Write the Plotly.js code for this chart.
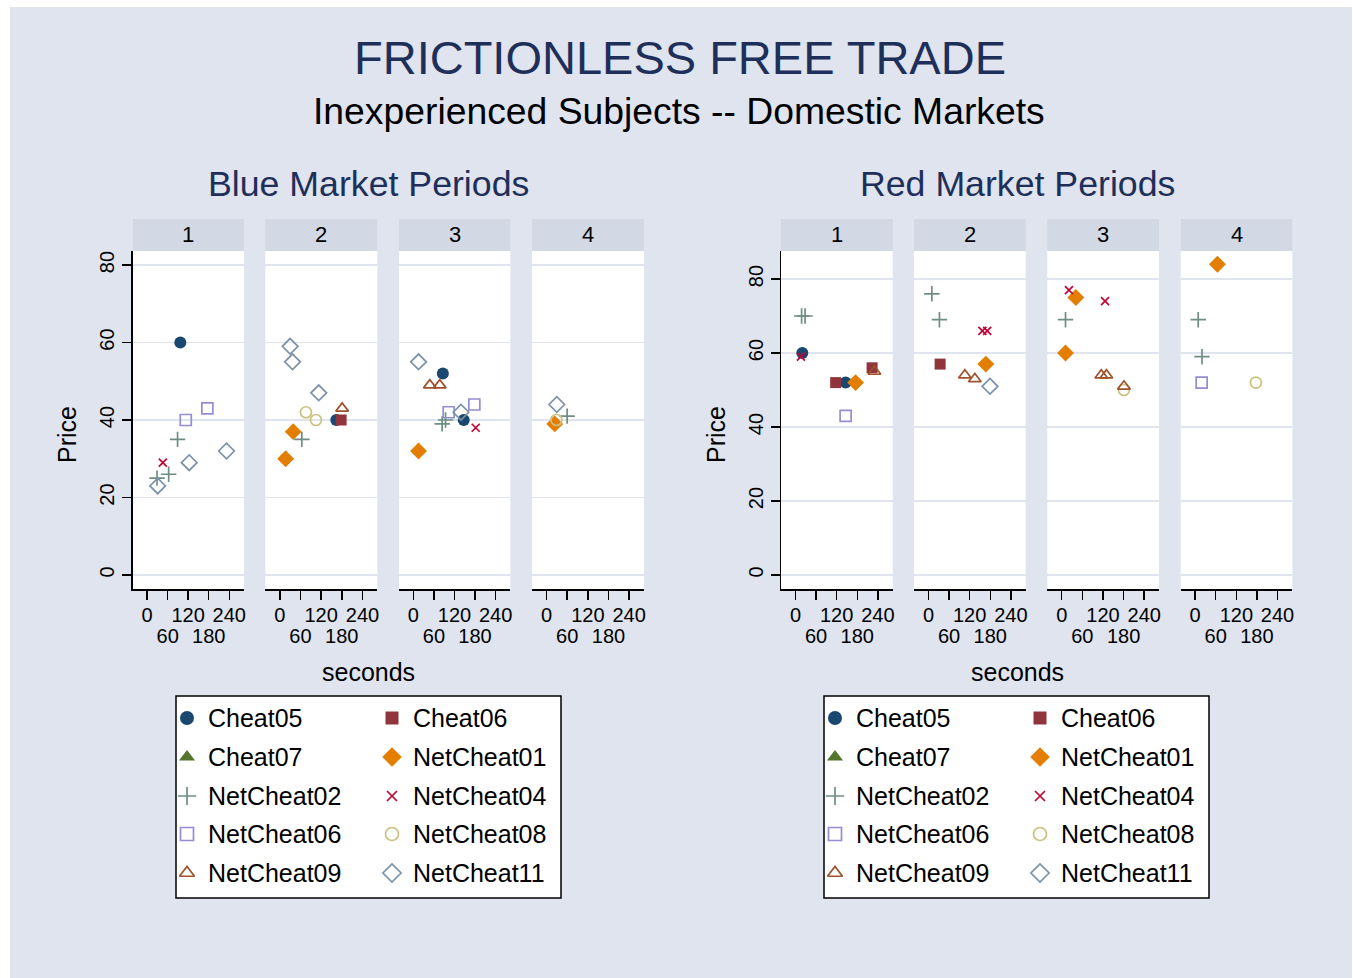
<!DOCTYPE html>
<html><head><meta charset="utf-8">
<script src="https://cdn.plot.ly/plotly-3.0.1.min.js"></script>
<style>html,body{margin:0;padding:0;background:#fff}</style>
</head><body><div id="chart" style="width:1353px;height:978px"></div>
<script>
// ---- series definitions ----
const seriesNames   = ['Cheat05','Cheat06','Cheat07','NetCheat01','NetCheat02','NetCheat04','NetCheat06','NetCheat08','NetCheat09','NetCheat11'];
const seriesColors  = ['#1a476f','#90353b','#55752f','#e37e00','#6e8e84','#c10534','#938dd2','#cac27e','#a0522d','#7b92a8'];
const seriesSymbols = ['circle','square','triangle-up','diamond','cross-thin','x-thin','square-open','circle-open','triangle-up-open','diamond-open'];

const periodLabels = ['1','2','3','4'];
const secondsTicks = [0,60,120,180,240];
const secondsTicksUpper = [0,120,240];
const secondsTicksLower = [60,180];
const priceTicks = [0,20,40,60,80];
const priceTickText = ['0','20','40','60','80'];

// ---- Blue market ----
const blue1Series  = ['Cheat05','NetCheat02','NetCheat02','NetCheat02','NetCheat04','NetCheat06','NetCheat06','NetCheat11','NetCheat11','NetCheat11'];
const blue1Seconds = [97,29,63,89,46,113,176,31,123,232];
const blue1Price   = [60,25,26,35,29,40,43,23,29,32];

const blue2Series  = ['Cheat05','Cheat06','NetCheat01','NetCheat01','NetCheat02','NetCheat08','NetCheat08','NetCheat09','NetCheat11','NetCheat11','NetCheat11'];
const blue2Seconds = [164,178,39,17,64,76,105,181,30,37,113];
const blue2Price   = [40,40,37,30,35,42,40,43,59,55,47];

const blue3Series  = ['Cheat05','Cheat05','NetCheat01','NetCheat02','NetCheat02','NetCheat04','NetCheat06','NetCheat06','NetCheat09','NetCheat09','NetCheat11','NetCheat11'];
const blue3Seconds = [86,147,15,84,94,182,103,178,48,77,15,139];
const blue3Price   = [52,40,32,39,40,38,42,44,49,49,55,42];

const blue4Series  = ['NetCheat01','NetCheat02','NetCheat08','NetCheat11'];
const blue4Seconds = [24,60,29,30];
const blue4Price   = [39,41,40,44];

// ---- Red market ----
const red1Series  = ['Cheat05','Cheat05','Cheat06','Cheat06','NetCheat01','NetCheat02','NetCheat02','NetCheat04','NetCheat06','NetCheat09'];
const red1Seconds = [20,146,117,223,175,18,28,16,146,230];
const red1Price   = [60,52,52,56,52,70,70,59,43,55];

const red2Series  = ['Cheat06','NetCheat01','NetCheat02','NetCheat02','NetCheat04','NetCheat04','NetCheat09','NetCheat09','NetCheat11'];
const red2Seconds = [34,167,10,32,157,171,106,135,179];
const red2Price   = [57,57,76,69,66,66,54,53,51];

const red3Series  = ['NetCheat01','NetCheat01','NetCheat02','NetCheat04','NetCheat04','NetCheat08','NetCheat09','NetCheat09','NetCheat09'];
const red3Seconds = [41,11,11,21,126,181,115,130,181];
const red3Price   = [75,60,69,77,74,50,54,54,51];

const red4Series  = ['NetCheat01','NetCheat02','NetCheat02','NetCheat06','NetCheat08'];
const red4Seconds = [65,9,20,19,177];
const red4Price   = [84,69,59,52,52];

// ---- layout helpers ----
const W = 1353, H = 978;
const FONT = 'Liberation Sans, Arial, Helvetica, sans-serif';
const px = x => x / W;
const py = y => 1 - y / H;

const panels = [
  {series: blue1Series, sec: blue1Seconds, price: blue1Price, left: 132.7, right: 244,   market: 'blue'},
  {series: blue2Series, sec: blue2Seconds, price: blue2Price, left: 265.3, right: 377.3, market: 'blue'},
  {series: blue3Series, sec: blue3Seconds, price: blue3Price, left: 399,   right: 510.3, market: 'blue'},
  {series: blue4Series, sec: blue4Seconds, price: blue4Price, left: 532,   right: 644,   market: 'blue'},
  {series: red1Series,  sec: red1Seconds,  price: red1Price,  left: 781,   right: 892.7, market: 'red'},
  {series: red2Series,  sec: red2Seconds,  price: red2Price,  left: 914,   right: 1025.7,market: 'red'},
  {series: red3Series,  sec: red3Seconds,  price: red3Price,  left: 1047.3,right: 1159,  market: 'red'},
  {series: red4Series,  sec: red4Seconds,  price: red4Price,  left: 1180.7,right: 1292.3,market: 'red'}
];
const plotTop = 251, plotBottom = 589, stripTop = 219;
const yRange = {blue: [-3.61, 83.61], red: [-3.78, 87.57]};
const xRange = [-42, 283];

function markerFor(i, big) {
  const sym = seriesSymbols[i];
  const open = /open|thin/.test(sym);
  const sizes = {'circle':12,'square':11,'triangle-up':12,'diamond':13,'cross-thin':11,'x-thin':8,
                 'square-open':11,'circle-open':11,'triangle-up-open':11,'diamond-open':12};
  return {symbol: sym, color: seriesColors[i], size: sizes[sym] + (big ? 2 : 0),
          line: {color: seriesColors[i], width: open ? 1.7 : 0}};
}

const traces = [];
const layout = {
  width: W, height: H,
  margin: {l: 0, r: 0, t: 0, b: 0, pad: 0},
  paper_bgcolor: '#ffffff',
  plot_bgcolor: 'rgba(0,0,0,0)',
  showlegend: false,
  font: {family: FONT, color: '#000'},
  shapes: [], annotations: []
};

// background
layout.shapes.push({type: 'rect', xref: 'paper', yref: 'paper', layer: 'below',
  x0: px(10), x1: px(1352), y0: 0, y1: py(7), fillcolor: '#dfe4ee', line: {width: 0}});

panels.forEach((p, k) => {
  const n = k + 1;
  const sfx = n === 1 ? '' : String(n);
  const first = (k % 4 === 0);
  layout['xaxis' + sfx] = {
    domain: [px(p.left), px(p.right)], range: xRange, anchor: 'y' + sfx,
    tickmode: 'array', tickvals: secondsTicks,
    ticktext: secondsTicks.map(v => secondsTicksUpper.includes(v) ? String(v) : ''), tickangle: 0,
    ticks: 'outside', ticklen: 9, tickwidth: 1.5, tickcolor: '#000', ticklabelstandoff: -2,
    tickfont: {size: 20, color: '#000', family: FONT},
    showline: true, linecolor: '#000', linewidth: 1.5,
    showgrid: false, zeroline: false, fixedrange: true
  };
  // second row of tick labels (60, 180)
  layout['xaxis' + (n + 10)] = {
    domain: [px(p.left), px(p.right)], range: xRange, anchor: 'y' + sfx, overlaying: 'x' + sfx, side: 'bottom',
    tickmode: 'array', tickvals: secondsTicksLower, ticktext: secondsTicksLower.map(String), tickangle: 0,
    ticks: 'outside', ticklen: 9, tickcolor: 'rgba(0,0,0,0)', ticklabelstandoff: 20,
    tickfont: {size: 20, color: '#000', family: FONT},
    showline: false, showgrid: false, zeroline: false, fixedrange: true
  };
  layout['yaxis' + sfx] = {
    domain: [py(plotBottom), py(plotTop)], range: yRange[p.market], anchor: 'x' + sfx,
    tickmode: 'array', tickvals: priceTicks, ticktext: priceTickText,
    showgrid: true, gridcolor: '#dfe4ee', gridwidth: 1.5, zeroline: false,
    showticklabels: first, ticks: first ? 'outside' : '', ticklen: 9, tickwidth: 1.5, tickcolor: '#000',
    tickangle: -90, tickfont: {size: 20, color: '#000', family: FONT},
    showline: first, linecolor: '#000', linewidth: 1.5, fixedrange: true
  };
  // panel background
  layout.shapes.push({type: 'rect', xref: 'paper', yref: 'paper', layer: 'below',
    x0: px(p.left), x1: px(p.right), y0: py(plotBottom), y1: py(plotTop),
    fillcolor: '#ffffff', line: {width: 0}});
  // strip
  layout.shapes.push({type: 'rect', xref: 'paper', yref: 'paper', layer: 'below',
    x0: px(p.left), x1: px(p.right), y0: py(plotTop), y1: py(stripTop),
    fillcolor: '#d2d9e5', line: {width: 0}});
  layout.annotations.push({xref: 'paper', yref: 'paper', x: px((p.left + p.right) / 2), y: py(235),
    text: periodLabels[k % 4], showarrow: false, xanchor: 'center', yanchor: 'middle',
    font: {size: 22, color: '#000', family: FONT}});

  // invisible trace to keep the second-row axis alive
  traces.push({type: 'scatter', mode: 'markers', x: [], y: [], xaxis: 'x' + (n + 10), yaxis: 'y' + sfx,
    hoverinfo: 'skip', showlegend: false});

  seriesNames.forEach((name, i) => {
    const xs = [], ys = [];
    p.series.forEach((s, j) => { if (s === name) { xs.push(p.sec[j]); ys.push(p.price[j]); } });
    if (!xs.length) return;
    traces.push({type: 'scatter', mode: 'markers', x: xs, y: ys, name: name,
      xaxis: 'x' + sfx, yaxis: 'y' + sfx,
      marker: markerFor(i, false), cliponaxis: false, hoverinfo: 'x+y+name'});
  });
});

// overlay axis in pixel coordinates for legend markers
layout.xaxis9 = {domain: [0, 1], range: [0, W], visible: false, fixedrange: true, anchor: 'y9'};
layout.yaxis9 = {domain: [0, 1], range: [H, 0], visible: false, fixedrange: true, anchor: 'x9'};

// titles
const titleColor = '#1e2f5a';
layout.annotations.push({xref: 'paper', yref: 'paper', x: px(680), y: py(57), text: 'FRICTIONLESS FREE TRADE',
  showarrow: false, xanchor: 'center', yanchor: 'middle', font: {size: 47, color: titleColor, family: FONT}});
layout.annotations.push({xref: 'paper', yref: 'paper', x: px(678.5), y: py(111), text: 'Inexperienced Subjects -- Domestic Markets',
  showarrow: false, xanchor: 'center', yanchor: 'middle', font: {size: 37.3, color: '#000', family: FONT}});

const marketBlocks = [
  {title: 'Blue Market Periods', cx: 368, priceX: 67, legendLeft: 176},
  {title: 'Red Market Periods',  cx: 1017, priceX: 716, legendLeft: 824}
];
const legendRows = [718, 757, 796, 834, 873];
marketBlocks.forEach(mb => {
  layout.annotations.push({xref: 'paper', yref: 'paper', x: px(mb.cx), y: py(184), text: mb.title,
    showarrow: false, xanchor: 'center', yanchor: 'middle', font: {size: 35.7, color: titleColor, family: FONT}});
  layout.annotations.push({xref: 'paper', yref: 'paper', x: px(mb.cx), y: py(672), text: 'seconds',
    showarrow: false, xanchor: 'center', yanchor: 'middle', font: {size: 25, color: '#000', family: FONT}});
  layout.annotations.push({xref: 'paper', yref: 'paper', x: px(mb.priceX), y: py(435), text: 'Price', textangle: -90,
    showarrow: false, xanchor: 'center', yanchor: 'middle', font: {size: 25, color: '#000', family: FONT}});
  // legend frame
  layout.shapes.push({type: 'rect', xref: 'paper', yref: 'paper', layer: 'below',
    x0: px(mb.legendLeft), x1: px(mb.legendLeft + 385), y0: py(898), y1: py(696),
    fillcolor: '#ffffff', line: {color: '#000', width: 1.5}});
  seriesNames.forEach((name, i) => {
    const col = i % 2, row = Math.floor(i / 2);
    const mx = mb.legendLeft + 11 + col * 205;
    const my = legendRows[row];
    traces.push({type: 'scatter', mode: 'markers', x: [mx], y: [my], xaxis: 'x9', yaxis: 'y9',
      marker: markerFor(i, true), hoverinfo: 'skip', cliponaxis: false});
    layout.annotations.push({xref: 'paper', yref: 'paper', x: px(mx + 19), y: py(my), text: name,
      showarrow: false, xanchor: 'left', yanchor: 'middle', font: {size: 25, color: '#000', family: FONT}});
  });
});

Plotly.newPlot('chart', traces, layout, {displayModeBar: false, staticPlot: true});
</script>
</body></html>
